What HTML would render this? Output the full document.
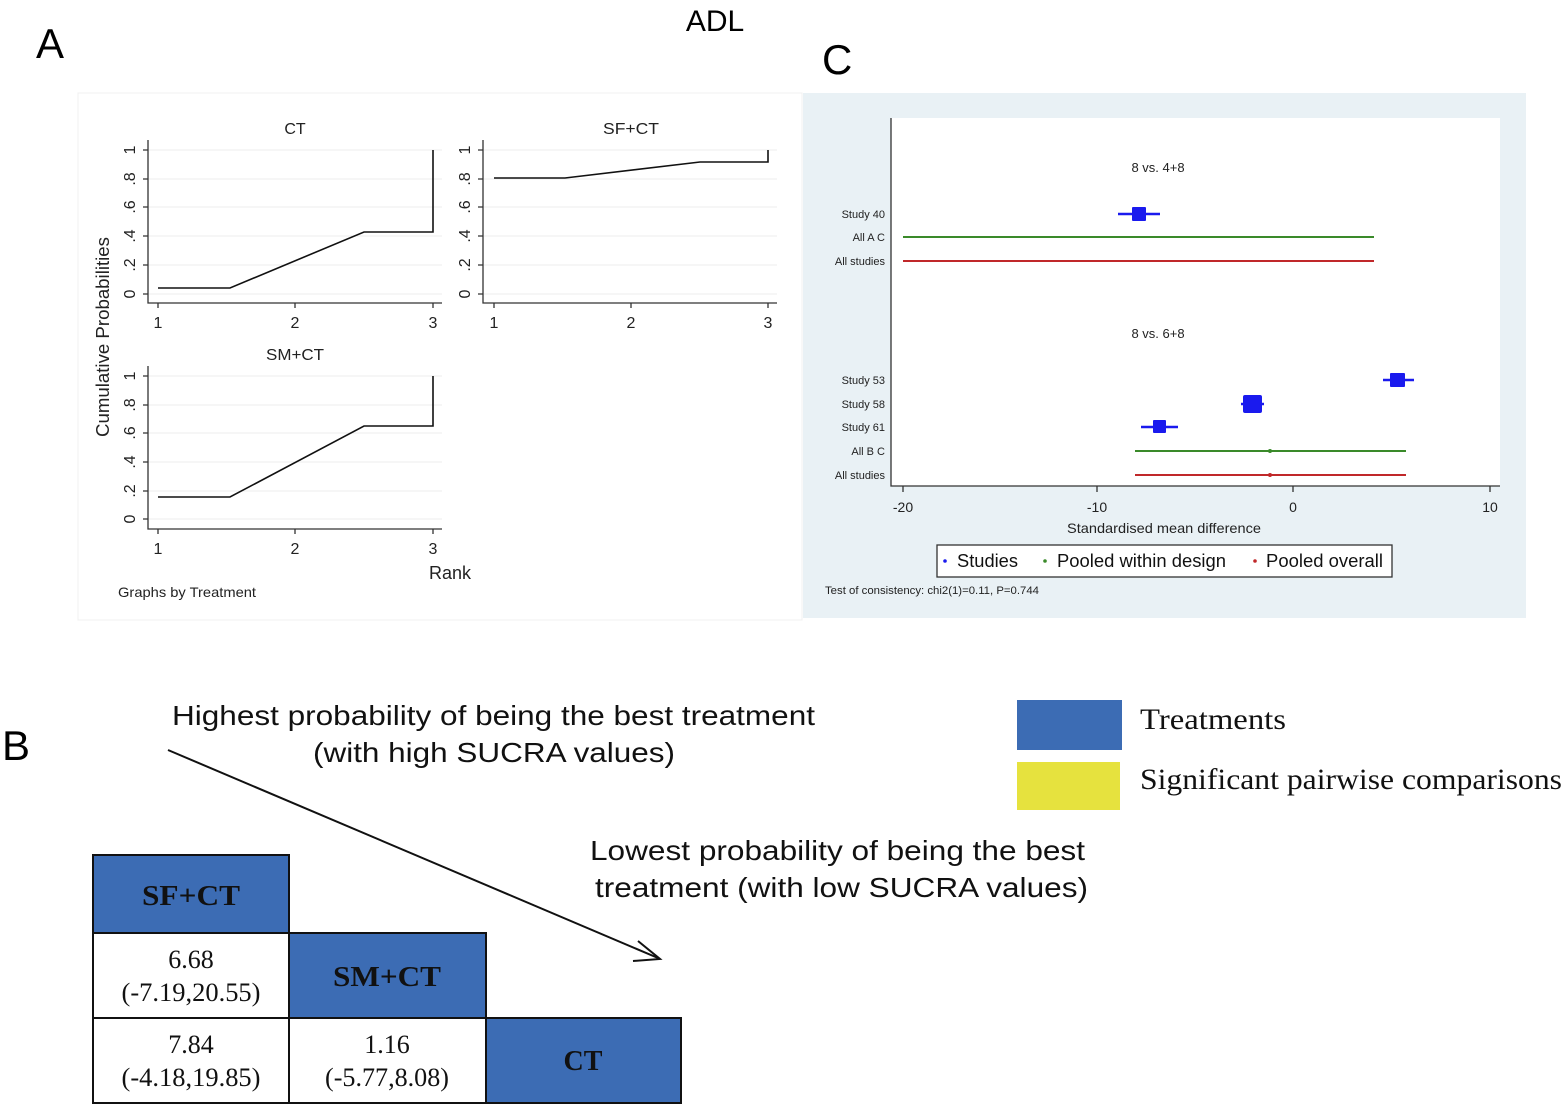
<!DOCTYPE html>
<html><head><meta charset="utf-8"><style>
html,body{margin:0;padding:0;background:#fff}
svg{display:block;font-family:"Liberation Sans",sans-serif}
.s{font-family:"Liberation Serif",serif}
</style></head><body>
<svg width="1566" height="1108" viewBox="0 0 1566 1108" xmlns="http://www.w3.org/2000/svg">
<rect width="1566" height="1108" fill="#fff"/>
<text x="36" y="58" font-size="42">A</text>
<text x="822" y="74" font-size="42">C</text>
<text x="2" y="760" font-size="42">B</text>
<text x="715" y="31" font-size="30" text-anchor="middle">ADL</text>

<!-- Panel A -->
<rect x="78" y="93" width="724" height="527" fill="#fff" stroke="#f0f0f0"/>
<g stroke="#eee" stroke-width="1">
<line x1="148" y1="150" x2="442" y2="150"/><line x1="148" y1="179" x2="442" y2="179"/><line x1="148" y1="207" x2="442" y2="207"/><line x1="148" y1="236" x2="442" y2="236"/><line x1="148" y1="265" x2="442" y2="265"/><line x1="148" y1="294" x2="442" y2="294"/>
<line x1="483" y1="150" x2="777" y2="150"/><line x1="483" y1="179" x2="777" y2="179"/><line x1="483" y1="207" x2="777" y2="207"/><line x1="483" y1="236" x2="777" y2="236"/><line x1="483" y1="265" x2="777" y2="265"/><line x1="483" y1="294" x2="777" y2="294"/>
<line x1="148" y1="376" x2="442" y2="376"/><line x1="148" y1="405" x2="442" y2="405"/><line x1="148" y1="433" x2="442" y2="433"/><line x1="148" y1="462" x2="442" y2="462"/><line x1="148" y1="491" x2="442" y2="491"/><line x1="148" y1="519" x2="442" y2="519"/>
</g>
<g stroke="#333" stroke-width="1.3" fill="none">
<path d="M148 140V303H442"/><path d="M483 140V303H777"/><path d="M148 366V529H442"/>
<path d="M143 150h5M143 179h5M143 207h5M143 236h5M143 265h5M143 294h5M158 303v5M295 303v5M433 303v5"/>
<path d="M478 150h5M478 179h5M478 207h5M478 236h5M478 265h5M478 294h5M494 303v5M631 303v5M768 303v5"/>
<path d="M143 376h5M143 405h5M143 433h5M143 462h5M143 491h5M143 519h5M158 529v5M295 529v5M433 529v5"/>
</g>
<g stroke="#111" stroke-width="1.6" fill="none">
<polyline points="158,288 230,288 364,232 433,232 433,150"/>
<polyline points="494,178 565,178 700,162 768,162 768,150"/>
<polyline points="158,497 230,497 364,426 433,426 433,376"/>
</g>
<g font-size="16" text-anchor="middle" fill="#222">
<text x="295" y="134">CT</text><text x="631" y="134" textLength="56" lengthAdjust="spacingAndGlyphs">SF+CT</text><text x="295" y="360" textLength="58" lengthAdjust="spacingAndGlyphs">SM+CT</text>
<text x="158" y="328">1</text><text x="295" y="328">2</text><text x="433" y="328">3</text>
<text x="494" y="328">1</text><text x="631" y="328">2</text><text x="768" y="328">3</text>
<text x="158" y="554">1</text><text x="295" y="554">2</text><text x="433" y="554">3</text>
</g>
<g font-size="16" text-anchor="middle" fill="#222">
<text transform="translate(135,150) rotate(-90)">1</text><text transform="translate(135,179) rotate(-90)">.8</text><text transform="translate(135,207) rotate(-90)">.6</text><text transform="translate(135,236) rotate(-90)">.4</text><text transform="translate(135,265) rotate(-90)">.2</text><text transform="translate(135,294) rotate(-90)">0</text>
<text transform="translate(470,150) rotate(-90)">1</text><text transform="translate(470,179) rotate(-90)">.8</text><text transform="translate(470,207) rotate(-90)">.6</text><text transform="translate(470,236) rotate(-90)">.4</text><text transform="translate(470,265) rotate(-90)">.2</text><text transform="translate(470,294) rotate(-90)">0</text>
<text transform="translate(135,376) rotate(-90)">1</text><text transform="translate(135,405) rotate(-90)">.8</text><text transform="translate(135,433) rotate(-90)">.6</text><text transform="translate(135,462) rotate(-90)">.4</text><text transform="translate(135,491) rotate(-90)">.2</text><text transform="translate(135,519) rotate(-90)">0</text>
<text transform="translate(109,337) rotate(-90)" font-size="18" textLength="200" lengthAdjust="spacingAndGlyphs">Cumulative Probabilities</text>
</g>
<text x="450" y="579" font-size="18" text-anchor="middle" fill="#222">Rank</text>
<text x="118" y="597" font-size="14" fill="#222" textLength="138" lengthAdjust="spacingAndGlyphs">Graphs by Treatment</text>

<!-- Panel C -->
<rect x="803" y="93" width="723" height="525" fill="#e9f1f5"/>
<rect x="891" y="118" width="609" height="368" fill="#fff"/>
<path d="M891 118V486H1500" stroke="#333" stroke-width="1.3" fill="none"/>
<path d="M903 486v6M1097 486v6M1293 486v6M1490 486v6" stroke="#333" stroke-width="1.3"/>
<g font-size="14" text-anchor="middle" fill="#222">
<text x="903" y="512">-20</text><text x="1097" y="512">-10</text><text x="1293" y="512">0</text><text x="1490" y="512">10</text>
<text x="1164" y="533" textLength="194" lengthAdjust="spacingAndGlyphs">Standardised mean difference</text>
<text x="1158" y="172" font-size="13">8 vs. 4+8</text><text x="1158" y="338" font-size="13">8 vs. 6+8</text>
</g>
<g font-size="11" text-anchor="end" fill="#222">
<text x="885" y="218">Study 40</text><text x="885" y="241">All A C</text><text x="885" y="265">All studies</text>
<text x="885" y="384">Study 53</text><text x="885" y="408">Study 58</text><text x="885" y="431">Study 61</text>
<text x="885" y="455">All B C</text><text x="885" y="479">All studies</text>
</g>
<g stroke-width="2">
<line x1="903" y1="237" x2="1374" y2="237" stroke="#3a8a2a"/>
<line x1="903" y1="261" x2="1374" y2="261" stroke="#c0282a"/>
<line x1="1135" y1="451" x2="1406" y2="451" stroke="#3a8a2a"/>
<line x1="1135" y1="475" x2="1406" y2="475" stroke="#c0282a"/>
<line x1="1118" y1="214" x2="1160" y2="214" stroke="#1a1aee" stroke-width="2.5"/>
<line x1="1383" y1="380" x2="1414" y2="380" stroke="#1a1aee" stroke-width="2.5"/>
<line x1="1241" y1="404" x2="1264" y2="404" stroke="#1a1aee" stroke-width="2.5"/>
<line x1="1141" y1="427" x2="1178" y2="427" stroke="#1a1aee" stroke-width="2.5"/>
</g>
<g fill="#1a1aee">
<rect x="1132" y="207" width="14" height="14" rx="1"/>
<rect x="1390" y="373" width="15" height="14" rx="1"/>
<rect x="1243" y="395" width="19" height="18" rx="2"/>
<rect x="1153" y="420" width="13" height="13" rx="1"/>
</g>
<circle cx="1270" cy="451" r="2" fill="#3a8a2a"/><circle cx="1270" cy="475" r="2" fill="#c0282a"/>
<rect x="937" y="545" width="455" height="32" fill="#fff" stroke="#333" stroke-width="1.3"/>
<g font-size="18" fill="#111">
<circle cx="945" cy="561" r="1.8" fill="#1a1aee"/><text x="957" y="567" textLength="61" lengthAdjust="spacingAndGlyphs">Studies</text>
<circle cx="1045" cy="561" r="1.8" fill="#3a8a2a"/><text x="1057" y="567" textLength="169" lengthAdjust="spacingAndGlyphs">Pooled within design</text>
<circle cx="1255" cy="561" r="1.8" fill="#c0282a"/><text x="1266" y="567" textLength="117" lengthAdjust="spacingAndGlyphs">Pooled overall</text>
</g>
<text x="825" y="594" font-size="11" fill="#222" textLength="214" lengthAdjust="spacingAndGlyphs">Test of consistency: chi2(1)=0.11, P=0.744</text>

<!-- Panel B -->
<g font-size="28" fill="#111">
<text x="172" y="725" textLength="643" lengthAdjust="spacingAndGlyphs">Highest probability of being the best treatment</text>
<text x="313" y="762" textLength="362" lengthAdjust="spacingAndGlyphs">(with high SUCRA values)</text>
<text x="590" y="860" textLength="495" lengthAdjust="spacingAndGlyphs">Lowest probability of being the best</text>
<text x="595" y="897" textLength="493" lengthAdjust="spacingAndGlyphs">treatment (with low SUCRA values)</text>
</g>
<line x1="168" y1="750" x2="658" y2="958" stroke="#111" stroke-width="2"/>
<path d="M638 941L660 959L633 961" stroke="#111" stroke-width="2" fill="none"/>
<rect x="1017" y="700" width="105" height="50" fill="#3c6cb4"/>
<rect x="1017" y="762" width="103" height="48" fill="#e6e23e"/>
<text class="s" x="1140" y="729" font-size="30" fill="#111" textLength="146" lengthAdjust="spacingAndGlyphs">Treatments</text>
<text class="s" x="1140" y="789" font-size="30" fill="#111" textLength="422" lengthAdjust="spacingAndGlyphs">Significant pairwise comparisons</text>
<g stroke="#111" stroke-width="2">
<rect x="93" y="855" width="196" height="78" fill="#3c6cb4"/>
<rect x="93" y="933" width="196" height="85" fill="#fff"/>
<rect x="289" y="933" width="197" height="85" fill="#3c6cb4"/>
<rect x="93" y="1018" width="196" height="85" fill="#fff"/>
<rect x="289" y="1018" width="197" height="85" fill="#fff"/>
<rect x="486" y="1018" width="195" height="85" fill="#3c6cb4"/>
</g>
<g class="s" font-size="28" text-anchor="middle" fill="#111">
<text x="191" y="905" font-weight="bold" textLength="98" lengthAdjust="spacingAndGlyphs">SF+CT</text>
<text x="387" y="986" font-weight="bold" textLength="108" lengthAdjust="spacingAndGlyphs">SM+CT</text>
<text x="583" y="1070" font-weight="bold">CT</text>
<text x="191" y="968" font-size="26">6.68</text><text x="191" y="1001" font-size="26" textLength="139" lengthAdjust="spacingAndGlyphs">(-7.19,20.55)</text>
<text x="191" y="1053" font-size="26">7.84</text><text x="191" y="1086" font-size="26" textLength="139" lengthAdjust="spacingAndGlyphs">(-4.18,19.85)</text>
<text x="387" y="1053" font-size="26">1.16</text><text x="387" y="1086" font-size="26" textLength="124" lengthAdjust="spacingAndGlyphs">(-5.77,8.08)</text>
</g>
</svg>
</body></html>
